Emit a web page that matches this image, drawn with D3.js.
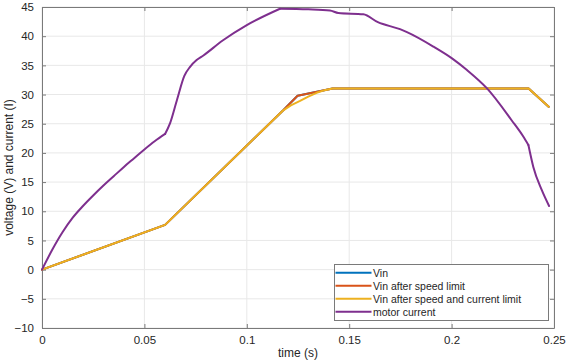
<!DOCTYPE html>
<html><head><meta charset="utf-8">
<script src="https://cdn.jsdelivr.net/npm/d3@7/dist/d3.min.js"></script>
<style>
html,body{margin:0;padding:0;background:#fff;}
svg{display:block;font-family:"Liberation Sans",Arial,Helvetica,sans-serif;}
</style></head><body>
<svg id="chart" width="567" height="364"></svg>
<script>
// ---- data ----
const xTicks = [0, 0.05, 0.1, 0.15, 0.2, 0.25];
const xTickLabels = ["0", "0.05", "0.1", "0.15", "0.2", "0.25"];
const yTicks = [-10, -5, 0, 5, 10, 15, 20, 25, 30, 35, 40, 45];
const seriesNames = ["Vin", "Vin after speed limit", "Vin after speed and current limit", "motor current"];
const seriesColors = ["#0072BD", "#D95319", "#EDB120", "#7E2F8E"];

const vinT = [0, 0.0601, 0.1178, 0.1248, 0.1419, 0.2376, 0.2474];
const vinV = [0, 7.67, 27.3, 29.8, 31.05, 31.05, 27.9];

const speedT = [0, 0.0601, 0.1178, 0.1248, 0.1419, 0.2376, 0.2474];
const speedV = [0, 7.67, 27.3, 29.8, 31.05, 31.05, 27.9];

const curLimT = [0, 0.0601, 0.1178, 0.1215, 0.1260, 0.1300, 0.1341, 0.1380, 0.1419, 0.2376, 0.2474];
const curLimV = [0, 7.67, 27.3, 28.15, 28.9, 29.65, 30.3, 30.75, 31.05, 31.05, 27.9];

// motor current, in smooth pieces separated by the kinks
const motorT1 = [0, 0.005, 0.010, 0.015, 0.020, 0.025, 0.030, 0.035, 0.040, 0.045, 0.050, 0.055, 0.0601];
const motorV1 = [0, 3.4, 6.4, 8.9, 10.9, 12.7, 14.4, 16.0, 17.6, 19.1, 20.6, 22.0, 23.25];
const motorT2 = [0.0601, 0.0625, 0.066, 0.0695, 0.0723, 0.0755, 0.0788, 0.0884, 0.1, 0.1162];
const motorV2 = [23.25, 25.05, 29.2, 33.2, 34.75, 35.9, 36.7, 39.3, 41.9, 44.7];
const motorT3 = [0.1162, 0.130, 0.1406, 0.1447, 0.1569, 0.164, 0.1748, 0.1782, 0.1912, 0.2002, 0.2075, 0.2173, 0.2293, 0.235, 0.2375];
const motorV3 = [44.7, 44.6, 44.4, 43.97, 43.75, 42.4, 41.2, 40.7, 38.2, 36.2, 34.2, 31.05, 25.6, 22.8, 21.35];
const motorT4 = [0.2375, 0.2399, 0.244, 0.2476];
const motorV4 = [21.35, 17.6, 13.65, 10.9];

// ---- layout ----
const svg = d3.select("#chart");
const L = 42, R = 554, T = 7, B = 328;
const x = d3.scaleLinear().domain([0, 0.25]).range([L, R]);
const y = d3.scaleLinear().domain([-10, 45]).range([B, T]);
const axisCol = "#7a7a7a", textCol = "#262626", gridCol = "#e8e8e8";

// grid
const g = svg.append("g");
g.selectAll(".gx").data(xTicks).join("line")
  .attr("x1", d => x(d)).attr("x2", d => x(d)).attr("y1", T).attr("y2", B)
  .attr("stroke", gridCol).attr("stroke-width", 1);
g.selectAll(".gy").data(yTicks).join("line")
  .attr("y1", d => y(d)).attr("y2", d => y(d)).attr("x1", L).attr("x2", R)
  .attr("stroke", gridCol).attr("stroke-width", 1);

// axes
const xAxisB = d3.axisBottom(x).tickValues(xTicks).tickFormat((d, i) => xTickLabels[i]).tickSizeInner(-4).tickSizeOuter(0).tickPadding(8);
const xAxisT = d3.axisTop(x).tickValues(xTicks).tickFormat("").tickSizeInner(-4).tickSizeOuter(0);
const yAxisL = d3.axisLeft(y).tickValues(yTicks).tickFormat(d3.format("d")).tickSizeInner(-4).tickSizeOuter(0).tickPadding(8);
const yAxisR = d3.axisRight(y).tickValues(yTicks).tickFormat("").tickSizeInner(-4).tickSizeOuter(0);

function style(sel) {
  sel.select(".domain").attr("stroke", axisCol).attr("stroke-width", 1);
  sel.selectAll(".tick line").attr("stroke", axisCol);
  sel.selectAll(".tick text").attr("fill", textCol).attr("font-size", "11.5px")
    .attr("font-family", "'Liberation Sans',Arial,sans-serif");
}
svg.append("g").attr("transform", `translate(0,${B})`).call(xAxisB).call(style);
svg.append("g").attr("transform", `translate(0,${T})`).call(xAxisT).call(style);
svg.append("g").attr("transform", `translate(${L},0)`).call(yAxisL).call(style);
svg.append("g").attr("transform", `translate(${R},0)`).call(yAxisR).call(style);

// lines
const linear = d3.line().x(d => x(d[0])).y(d => y(d[1]));
const smooth = d3.line().x(d => x(d[0])).y(d => y(d[1])).curve(d3.curveMonotoneX);
function drawPath(data, gen, color) {
  svg.append("path").datum(data).attr("d", gen)
    .attr("fill", "none").attr("stroke", color).attr("stroke-width", 2)
    .attr("stroke-linejoin", "round").attr("stroke-linecap", "round");
}
drawPath(d3.zip(vinT, vinV), linear, seriesColors[0]);
drawPath(d3.zip(speedT, speedV), linear, seriesColors[1]);
drawPath(d3.zip(curLimT, curLimV), linear, seriesColors[2]);
[[motorT1, motorV1], [motorT2, motorV2], [motorT3, motorV3], [motorT4, motorV4]]
  .forEach(([t, v]) => drawPath(d3.zip(t, v), smooth, seriesColors[3]));

// labels
svg.append("text").attr("x", (L + R) / 2).attr("y", 357).attr("text-anchor", "middle")
  .attr("fill", textCol).attr("font-size", "12px").text("time (s)");
svg.append("text").attr("transform", `translate(13,${(T + B) / 2}) rotate(-90)`)
  .attr("text-anchor", "middle").attr("fill", textCol).attr("font-size", "12px")
  .text("voltage (V) and current (I)");

// legend
const lg = svg.append("g");
lg.append("rect").attr("x", 334.5).attr("y", 264.5).attr("width", 214).attr("height", 56)
  .attr("fill", "#fff").attr("stroke", axisCol).attr("stroke-width", 1);
seriesNames.forEach((n, i) => {
  const yy = 272.7 + i * 13;
  lg.append("line").attr("x1", 335.5).attr("x2", 371.5).attr("y1", yy).attr("y2", yy)
    .attr("stroke", seriesColors[i]).attr("stroke-width", 2);
  lg.append("text").attr("x", 373).attr("y", yy + 3.8).attr("fill", textCol)
    .attr("font-size", "10.5px").text(n);
});
</script>
</body></html>
